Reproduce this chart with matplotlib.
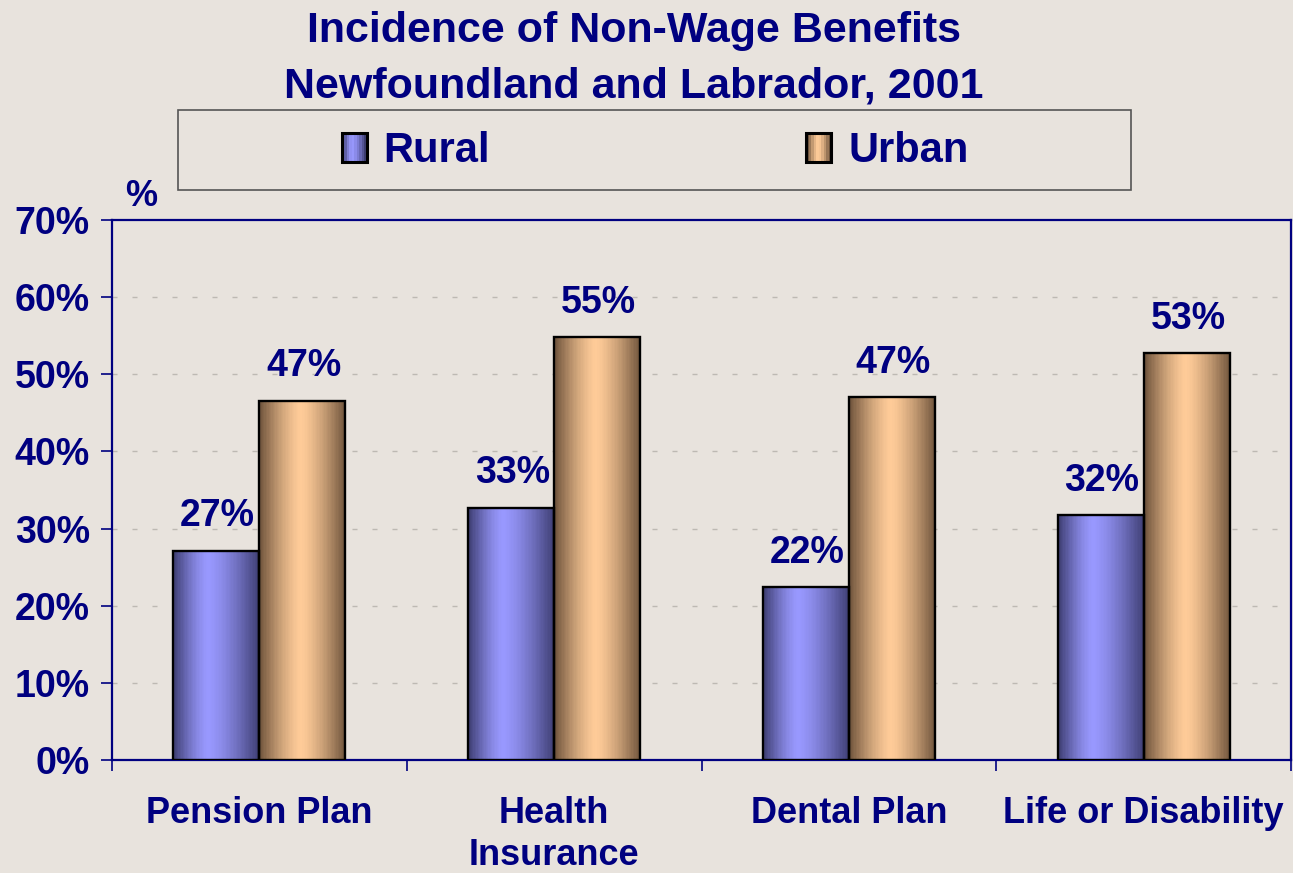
import numpy as np
import matplotlib
matplotlib.use("Agg")
import matplotlib.pyplot as plt
from matplotlib.patches import Rectangle
from matplotlib.legend_handler import HandlerBase
from matplotlib.colors import to_rgb

categories = ["Pension Plan", "Health\nInsurance", "Dental Plan", "Life or Disability"]
rural = [27.1, 32.7, 22.4, 31.7]
urban = [46.6, 54.8, 47.0, 52.7]
series_names = ["Rural", "Urban"]
yticks = [0, 10, 20, 30, 40, 50, 60, 70]

navy = "#000080"
bg = "#e8e3dd"
# (dark edge, light highlight, position of highlight)
shades = {"Rural": ("#3e3e72", "#9999ff", 0.40),
          "Urban": ("#6f543c", "#ffcc99", 0.48)}

plt.rcParams["font.family"] = ["Liberation Sans", "DejaVu Sans"]
plt.rcParams["font.weight"] = "bold"


def gradient_row(name, n=64):
    dark, light, peak = shades[name]
    dark = np.array(to_rgb(dark))
    light = np.array(to_rgb(light))
    t = np.linspace(0, 1, n)
    d = np.where(t < peak, (peak - t) / peak, (t - peak) / (1 - peak))
    s = 1 - d ** 1.4
    return (dark[None, :] + (light - dark)[None, :] * s[:, None])[None, :, :]


class GradientHandler(HandlerBase):
    def __init__(self, name):
        super().__init__()
        self.name = name

    def create_artists(self, legend, orig_handle, xdescent, ydescent,
                       width, height, fontsize, trans):
        row = gradient_row(self.name, 10)[0]
        arts = []
        sw = width / len(row)
        for k, c in enumerate(row):
            arts.append(Rectangle((-xdescent + k * sw, -ydescent), sw * 1.05, height,
                                  facecolor=c, edgecolor="none", transform=trans))
        arts.append(Rectangle((-xdescent, -ydescent), width, height, facecolor="none",
                              edgecolor="black", linewidth=2.2, transform=trans))
        return arts


fig = plt.figure(figsize=(12.93, 8.73), dpi=100, facecolor=bg)
ax = fig.add_axes([112 / 1293, 1 - 760 / 873, 1179 / 1293, 540 / 873])
ax.set_facecolor(bg)

x = np.arange(len(categories))
w = 0.292

for vals, name, off in [(rural, "Rural", -w / 2), (urban, "Urban", w / 2)]:
    grad = gradient_row(name)
    for xi, v in zip(x, vals):
        x0 = xi + off - w / 2
        bar = Rectangle((x0, 0), w, v, facecolor="none", edgecolor="black",
                        linewidth=1.7, zorder=4)
        ax.add_patch(bar)
        im = ax.imshow(grad, extent=[x0, x0 + w, 0, v], aspect="auto",
                       interpolation="nearest", zorder=3)
        im.set_clip_path(bar)
        ax.annotate(f"{v:.0f}%", (xi + off, v), xytext=(1, 12), textcoords="offset points",
                    ha="center", va="bottom", fontsize=27, color=navy, fontweight="bold")

ax.set_xlim(-0.5, len(categories) - 0.5)
ax.set_ylim(0, 70)

for yt in yticks[1:-1]:
    ax.axhline(yt, color="#bdb9b3", linewidth=1, dashes=(3.6, 10.8), zorder=1)

ax.set_yticks(yticks)
ax.set_yticklabels([f"{t}%" for t in yticks], fontsize=27, color=navy, fontweight="bold")
ax.tick_params(axis="y", length=8, width=1.2, color=navy, pad=8)

ax.set_xticks(np.arange(len(categories) + 1) - 0.5)
ax.set_xticklabels([])
ax.set_xticks(x, minor=True)
ax.set_xticklabels(categories, minor=True, fontsize=26, color=navy, fontweight="bold",
                   linespacing=1.25)
ax.tick_params(axis="x", which="major", length=8, width=1.2, color=navy, direction="out")
ax.tick_params(axis="x", which="minor", length=0, pad=26)

for sp in ax.spines.values():
    sp.set_color(navy)
    sp.set_linewidth(1.6)

ax.text(0.025, 1.012, "%", transform=ax.transAxes, fontsize=26, color=navy,
        fontweight="bold", ha="center", va="bottom")

fig.text(634 / 1293, 1 - 31 / 873, "Incidence of Non-Wage Benefits", ha="center", va="center",
         fontsize=31, color=navy, fontweight="bold")
fig.text(634 / 1293, 1 - 86 / 873, "Newfoundland and Labrador, 2001", ha="center", va="center",
         fontsize=31, color=navy, fontweight="bold")

# legend frame
fig.patches.append(Rectangle((178 / 1293, 1 - 190 / 873), 953 / 1293, 80 / 873,
                             transform=fig.transFigure, facecolor="none",
                             edgecolor="#555555", linewidth=1.2))
h1 = Rectangle((0, 0), 1, 1)
h2 = Rectangle((0, 0), 1, 1)
fig.legend([h1, h2], series_names, loc="center", bbox_to_anchor=(655 / 1293, 1 - 151 / 873),
           ncol=2, frameon=False, handler_map={h1: GradientHandler("Rural"), h2: GradientHandler("Urban")},
           prop={"size": 30, "weight": "bold"}, labelcolor=navy,
           handlelength=0.6, handleheight=0.7, handletextpad=0.4, columnspacing=7.6)

fig.savefig("out.png", dpi=100, facecolor=bg)
